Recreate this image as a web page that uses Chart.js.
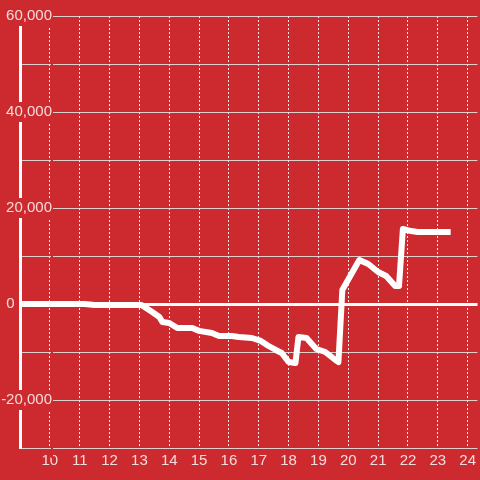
<!DOCTYPE html>
<html>
<head>
<meta charset="utf-8">
<script src="https://cdn.jsdelivr.net/npm/chart.js@4"></script>
<style>
  html, body { margin: 0; padding: 0; background: #cd2a2f; }
  #wrap { width: 480px; height: 480px; }
</style>
</head>
<body>
<div id="wrap"><canvas id="chart" width="480" height="480"></canvas></div>
<script>
// hours of the day (decimal) and value at each
const hours = [9, 11.17, 11.5, 13, 13.07, 13.43, 13.67, 13.77, 14.0, 14.27, 14.77, 15.0, 15.43, 15.67,
    16.1, 16.33, 16.77, 17.07, 17.33, 17.57, 17.77, 18.0, 18.23, 18.33, 18.6, 18.93, 19.23, 19.57,
    19.67, 19.8, 20.37, 20.67, 21.0, 21.27, 21.57, 21.7, 21.83, 22.1, 22.33, 23.43];
const values = [0, 0, -200, -200, -200, -1670, -2700, -3750, -3960, -5000, -5000, -5600, -6040, -6670,
    -6670, -6875, -7080, -7700, -8750, -9580, -10200, -12080, -12300, -6875, -7080, -9375, -10000, -11670,
    -12080, 2900, 9170, 8330, 6670, 5830, 3750, 3750, 15625, 15200, 15000, 15000];

const xMin = 9, xMax = 24.33;
const yMin = -30000, yMax = 60000, yStep = 10000, yLabelStep = 20000;

const bg = '#cd2a2f';
const labelColor = '#f3dcdc';

const points = hours.map((h, i) => ({ x: h, y: values[i] }));

new Chart(document.getElementById('chart'), {
    type: 'line',
    data: {
        datasets: [{
            data: points,
            borderColor: '#ffffff',
            borderWidth: 6,
            pointRadius: 0,
            tension: 0,
            borderJoinStyle: 'round',
            fill: false
        }]
    },
    options: {
        responsive: false,
        animation: false,
        layout: { padding: { top: 16, right: 0, left: 0, bottom: 0 } },
        plugins: {
            legend: { display: false },
            tooltip: { enabled: false }
        },
        scales: {
            x: {
                type: 'linear',
                min: xMin,
                max: xMax,
                afterFit: (s) => { s.height = 32; },
                ticks: {
                    stepSize: 1,
                    includeBounds: false,
                    color: labelColor,
                    font: { family: 'Liberation Sans', size: 15 },
                    padding: 4,
                    maxRotation: 0,
                    callback: (v) => (v === 9 ? '' : v)
                },
                grid: {
                    color: 'rgba(255,255,255,0.9)',
                    lineWidth: 1,
                    drawTicks: false
                },
                border: { display: false, dash: [2, 2] }
            },
            y: {
                min: yMin,
                max: yMax,
                afterFit: (s) => {
                    s.width = 20;
                    // labels sit over the plot, so don't clip them to the axis box
                    s._computeLabelArea = () => undefined;
                },
                ticks: {
                    stepSize: yStep,
                    color: labelColor,
                    font: { family: 'Liberation Sans', size: 15 },
                    padding: -32,
                    showLabelBackdrop: true,
                    backdropColor: (c) => (c.tick && c.tick.value === 0 ? 'rgba(0,0,0,0)' : bg),
                    backdropPadding: 1,
                    callback: (v) => {
                        if (v === 0) return '0         '; // zero label sits left of the axis
                        return v % yLabelStep === 0 ? v.toLocaleString('en-US') : '';
                    }
                },
                grid: {
                    color: (c) => (c.tick && c.tick.value === 0 ? '#ffffff' : 'rgba(225,225,225,0.9)'),
                    lineWidth: (c) => (c.tick && c.tick.value === 0 ? 3 : 1),
                    drawTicks: false
                },
                border: { display: true, color: '#ffffff', width: 3 }
            }
        }
    }
});
</script>
</body>
</html>
